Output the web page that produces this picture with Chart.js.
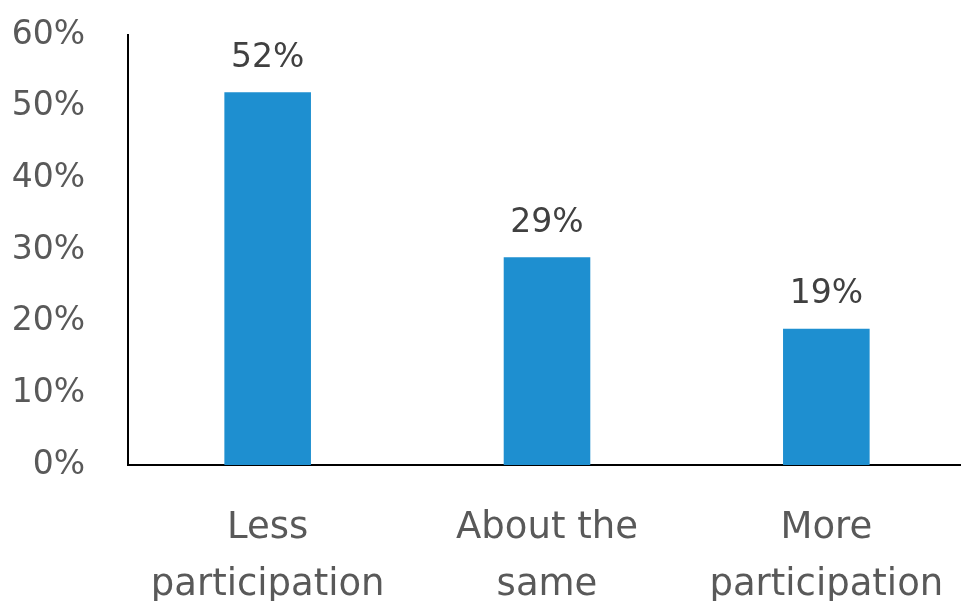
<!DOCTYPE html>
<html>
<head>
<meta charset="utf-8">
<script src="https://cdn.jsdelivr.net/npm/chart.js@4"></script>
<style>
  html, body { margin: 0; padding: 0; background: #fff; overflow: hidden; }
  #chart { display: block; }
</style>
</head>
<body>
<canvas id="chart" width="966" height="601"></canvas>
<script>
const categories = [["Less", "participation"], ["About the", "same"], ["More", "participation"]];
const values = [52, 29, 19];
const yTicks = [0, 10, 20, 30, 40, 50, 60];

const FONT = "'DejaVu Sans', sans-serif";

const valueLabels = {
  id: "valueLabels",
  afterDatasetsDraw(chart) {
    const ctx = chart.ctx;
    const meta = chart.getDatasetMeta(0);
    ctx.save();
    ctx.font = "33px " + FONT;
    ctx.fillStyle = "#404040";
    ctx.textAlign = "center";
    ctx.textBaseline = "middle";
    meta.data.forEach((bar, i) => {
      ctx.fillText(values[i] + "%", bar.x, bar.y - 34);
    });
    ctx.restore();
  },
};

new Chart(document.getElementById("chart"), {
  type: "bar",
  data: {
    labels: categories,
    datasets: [{ data: values, backgroundColor: "#1E8FD0", barPercentage: 0.31, categoryPercentage: 1 }],
  },
  options: {
    responsive: false,
    maintainAspectRatio: false,
    devicePixelRatio: 1,
    animation: false,
    layout: { padding: { top: 35, right: 0, left: 0, bottom: 0 } },
    plugins: { legend: { display: false }, tooltip: { enabled: false } },
    scales: {
      x: {
        grid: { display: false },
        border: { display: true, color: "#000", width: 2 },
        ticks: { color: "#595959", font: { family: FONT, size: 37, lineHeight: 1.54 }, padding: 27, maxRotation: 0 },
        afterFit: (s) => { s.height = 136; s.paddingRight = 0; },
      },
      y: {
        min: 0,
        max: 60,
        grid: { display: false },
        border: { display: true, color: "#000", width: 2 },
        afterBuildTicks: (s) => { s.ticks = yTicks.map((v) => ({ value: v })); },
        ticks: { color: "#595959", font: { family: FONT, size: 33 }, padding: 35, callback: (v) => v + "%" },
        afterFit: (s) => { s.width = 128; s.paddingTop = 0; s.paddingBottom = 0; },
      },
    },
  },
  plugins: [valueLabels],
});
</script>
</body>
</html>
